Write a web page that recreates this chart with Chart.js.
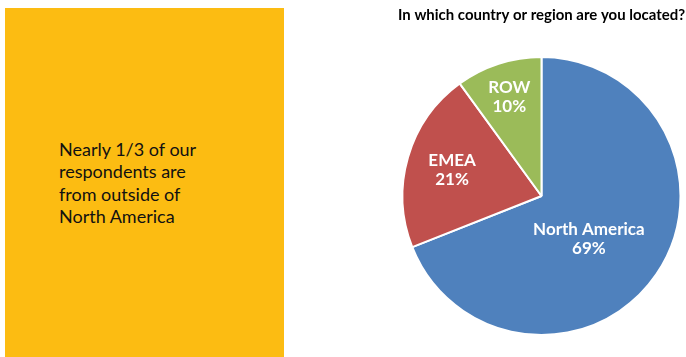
<!DOCTYPE html>
<html><head><meta charset="utf-8">
<script src="https://cdn.jsdelivr.net/npm/chart.js@4.4.1/dist/chart.umd.min.js"></script>
<style>
html,body{margin:0;padding:0;background:#fff;width:686px;height:357px;overflow:hidden;}
#box{position:absolute;left:5px;top:8px;width:279px;height:349px;background:#FCBC12;}
#box p{position:absolute;left:54px;top:130px;margin:0;font-family:Lato,sans-serif;font-size:18px;line-height:22.4px;color:#111;}
#wrap{position:absolute;left:380px;top:0;width:306px;height:357px;}
</style></head><body>
<div id="box"><p>Nearly 1/3 of our<br>respondents are<br>from outside of<br>North America</p></div>
<div id="wrap"><canvas id="c"></canvas></div>
<script>
const titleText = "In which country or region are you located?";
const categories = ["North America", "EMEA", "ROW"];
const values = [69, 21, 10];
const colors = ["#4F81BD", "#C0504D", "#9BBB59"];

const labelPlugin = {
  id: 'sliceLabels',
  afterDatasetsDraw(chart, args, opts) {
    const ctx = chart.ctx;
    const meta = chart.getDatasetMeta(0);
    const total = values.reduce((a, b) => a + b, 0);
    ctx.save();
    ctx.fillStyle = '#fff';
    ctx.font = 'bold 17px Lato, sans-serif';
    ctx.textAlign = 'center';
    ctx.textBaseline = 'middle';
    meta.data.forEach((arc, i) => {
      const p = arc.getProps(['x', 'y', 'startAngle', 'endAngle', 'outerRadius'], true);
      const mid = (p.startAngle + p.endAngle) / 2 + opts.angleShift[i] * Math.PI / 180;
      const r = p.outerRadius * opts.radius[i];
      const x = p.x + Math.cos(mid) * r;
      const y = p.y + Math.sin(mid) * r;
      ctx.fillText(categories[i], x, y - 9.5);
      ctx.fillText(Math.round(values[i] / total * 100) + '%', x, y + 9.5);
    });
    ctx.restore();
  }
};

new Chart(document.getElementById('c'), {
  type: 'pie',
  data: {
    labels: categories,
    datasets: [{ data: values, backgroundColor: colors, borderColor: '#fff', borderWidth: 2 }]
  },
  options: {
    responsive: true,
    maintainAspectRatio: false,
    animation: false,
    layout: { padding: { left: 18, right: 1, top: 0, bottom: 21 } },
    plugins: {
      legend: { display: false },
      tooltip: { enabled: false },
      title: {
        display: true, text: titleText, align: 'end', color: '#000',
        font: { family: 'Lato, sans-serif', size: 15, weight: 'bold' },
        padding: { top: 6, bottom: 32 }
      },
      sliceLabels: { radius: [0.46, 0.67, 0.75], angleShift: [8, 0, 0] }
    }
  },
  plugins: [labelPlugin]
});
</script>
</body></html>
